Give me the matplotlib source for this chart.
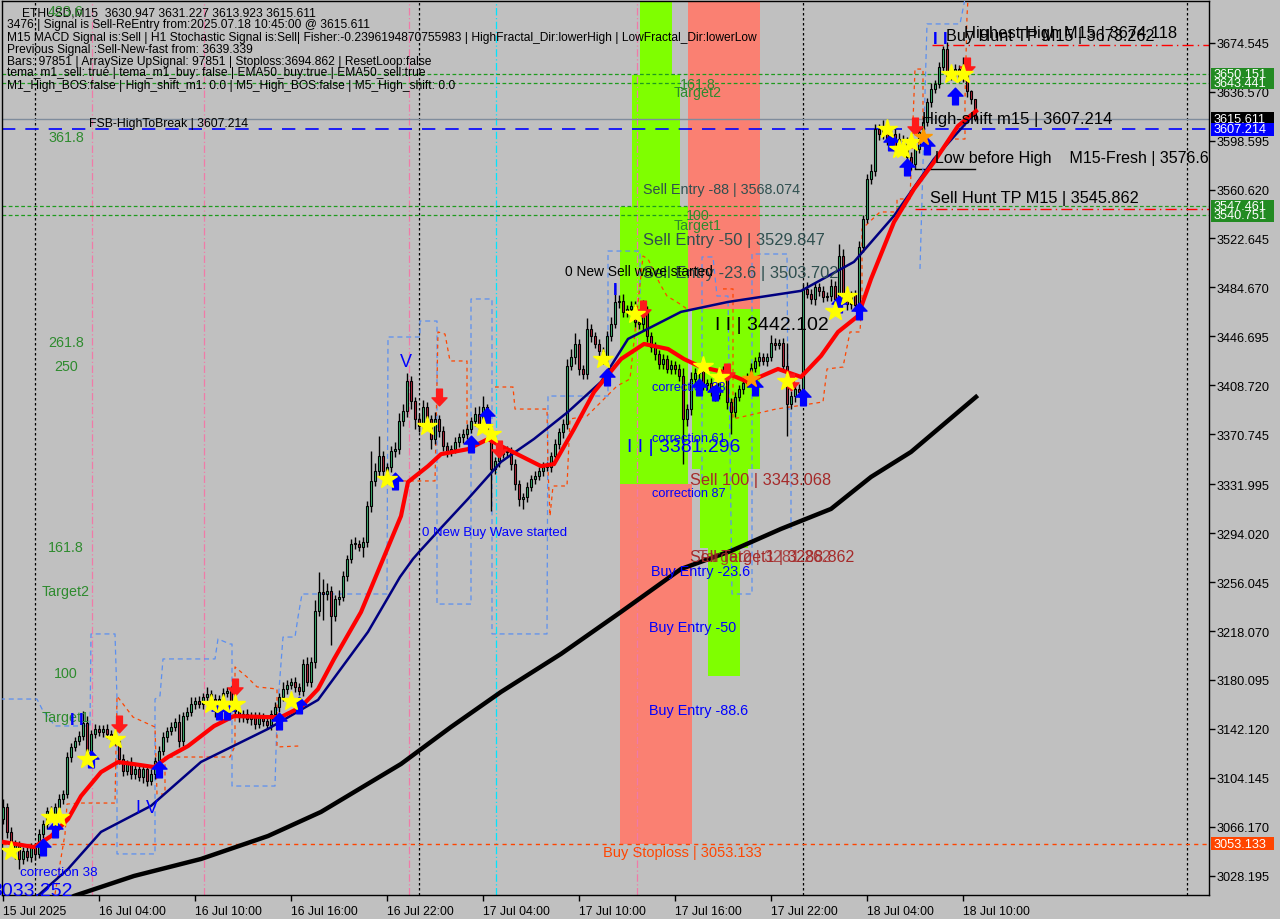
import matplotlib
matplotlib.use("Agg")
import matplotlib.pyplot as plt
from matplotlib.path import Path
from matplotlib.patches import Rectangle

plt.rcParams['font.family'] = ['Liberation Sans', 'DejaVu Sans']

# ---------------- data ----------------
first_open = 3072.0
closes = [
    3081.7, 3062.3, 3049.1, 3053.0, 3041.3, 3047.5, 3042.9, 3050.7, 3045.2, 3060.7, 3068.5, 3078.6, 3076.3, 3081.7, 3087.9, 3091.8, 3120.5, 3128.3, 3132.9, 3136.8,
    3146.9, 3120.5, 3138.3, 3142.2, 3139.9, 3142.2, 3138.3, 3136.0, 3132.9, 3118.9, 3109.6, 3115.1, 3107.3, 3111.2, 3105.0, 3111.2, 3101.9, 3107.3, 3117.4, 3125.1,
    3136.0, 3140.7, 3143.8, 3147.7, 3132.9, 3152.3, 3155.4, 3161.6, 3163.9, 3161.6, 3167.1, 3169.4, 3165.5, 3156.2, 3165.5, 3170.2, 3171.7, 3161.6, 3156.2, 3151.5,
    3153.9, 3150.0, 3152.3, 3146.1, 3151.5, 3148.4, 3145.3, 3153.9, 3159.3, 3167.1, 3173.3, 3176.4, 3178.7, 3174.8, 3171.7, 3192.7, 3178.7, 3194.2, 3233.8, 3248.5,
    3247.0, 3249.3, 3229.9, 3243.1, 3244.7, 3261.0, 3274.1, 3285.8, 3285.8, 3283.5, 3287.3, 3315.3, 3334.7, 3342.4, 3354.1, 3342.4, 3345.5, 3357.9, 3359.5, 3381.2,
    3389.0, 3412.3, 3396.7, 3382.8, 3377.4, 3392.1, 3382.8, 3367.3, 3382.8, 3373.5, 3361.8, 3357.9, 3359.5, 3364.9, 3368.8, 3371.1, 3375.0, 3381.2, 3386.7, 3378.9,
    3392.1, 3375.0, 3344.0, 3350.2, 3355.6, 3357.2, 3357.9, 3347.9, 3332.3, 3320.7, 3322.3, 3330.0, 3336.2, 3338.5, 3342.4, 3345.5, 3345.5, 3354.1, 3363.4, 3372.7,
    3378.9, 3423.9, 3430.9, 3441.0, 3421.6, 3417.7, 3452.6, 3447.2, 3441.0, 3435.5, 3429.3, 3447.2, 3456.5, 3473.6, 3474.4, 3465.8, 3468.1, 3470.5, 3458.1, 3456.5,
    3466.6, 3447.2, 3438.7, 3433.2, 3425.5, 3429.3, 3421.6, 3424.7, 3421.6, 3416.1, 3382.8, 3390.5, 3413.8, 3418.5, 3420.0, 3409.2, 3410.7, 3406.1, 3401.4, 3415.4,
    3420.0, 3396.0, 3388.2, 3399.9, 3406.1, 3410.7, 3415.4, 3422.4, 3427.8, 3430.9, 3427.8, 3430.9, 3441.8, 3440.2, 3441.8, 3423.9, 3394.4, 3400.6, 3406.1, 3403.7,
    3483.7, 3479.8, 3475.9, 3485.2, 3482.1, 3477.5, 3478.2, 3486.0, 3475.9, 3509.3, 3475.9, 3472.0, 3479.0, 3471.2, 3516.3, 3538.0, 3569.0, 3575.2, 3607.8, 3603.9,
    3609.4, 3600.1, 3603.9, 3592.3, 3600.1, 3596.2, 3586.1, 3580.7, 3592.3, 3605.5, 3613.2, 3628.8, 3638.9, 3642.7, 3655.9, 3669.9, 3648.9, 3652.0, 3654.4, 3648.2,
    3654.4, 3637.3, 3630.947, 3615.611,
]
wick_up = [
    6, 3, 4, 3, 2, 3, 4, 3, 3, 4, 3, 3, 4, 3, 4, 3, 4, 3, 3, 4,
    9, 5, 3, 4, 3, 3, 4, 3, 2, 3, 4, 3, 5, 3, 4, 3, 3, 4, 3, 4,
    4, 3, 4, 3, 6, 3, 4, 5, 3, 4, 3, 5, 3, 4, 3, 4, 3, 4, 3, 3,
    3, 4, 3, 3, 4, 3, 4, 3, 4, 3, 5, 4, 3, 4, 3, 4, 5, 4, 8, 15,
    10, 6, 4, 3, 5, 4, 3, 4, 5, 3, 4, 4, 23, 6, 15, 4, 3, 4, 5, 6,
    5, 6, 4, 3, 4, 5, 4, 3, 5, 3, 4, 3, 3, 4, 3, 4, 4, 3, 5, 6,
    8, 2, 4, 3, 4, 3, 4, 3, 4, 3, 3, 4, 3, 4, 3, 4, 4, 3, 4, 3,
    4, 5, 6, 8, 4, 3, 8, 4, 3, 4, 3, 4, 5, 14, 4, 5, 3, 4, 4, 3,
    8, 4, 3, 4, 3, 4, 3, 4, 3, 4, 6, 4, 5, 4, 3, 4, 3, 4, 3, 4,
    4, 5, 3, 4, 3, 4, 3, 4, 3, 4, 3, 3, 6, 4, 3, 4, 18, 4, 3, 4,
    4, 5, 4, 4, 3, 4, 3, 5, 4, 9, 5, 4, 3, 4, 4, 3, 4, 5, 4, 4,
    5, 4, 3, 4, 4, 3, 5, 4, 3, 4, 4, 3, 4, 3, 4, 2, 5, 4, 4, 3,
    9, 4, 0.3, 0.3,
]
wick_dn = [
    4, 5, 4, 8, 8, 4, 3, 4, 5, 3, 3, 4, 3, 4, 3, 4, 3, 4, 3, 3,
    3, 5, 4, 3, 3, 4, 3, 4, 3, 4, 4, 3, 4, 4, 3, 5, 4, 3, 4, 3,
    3, 4, 3, 3, 5, 4, 3, 3, 4, 3, 4, 3, 3, 5, 3, 4, 3, 4, 3, 4,
    4, 3, 5, 4, 3, 4, 3, 4, 3, 4, 3, 4, 3, 4, 3, 4, 3, 4, 5, 4,
    20, 5, 23, 4, 5, 3, 4, 3, 4, 3, 8, 4, 5, 4, 5, 4, 3, 4, 5, 4,
    4, 5, 6, 8, 5, 4, 6, 8, 4, 5, 4, 5, 4, 3, 4, 5, 4, 3, 4, 4,
    5, 4, 33, 4, 5, 3, 4, 5, 5, 6, 8, 4, 3, 4, 3, 4, 3, 4, 3, 4,
    5, 4, 3, 6, 5, 4, 4, 5, 3, 5, 4, 3, 4, 3, 5, 4, 4, 3, 4, 4,
    6, 5, 4, 5, 4, 4, 3, 4, 4, 4, 35, 6, 5, 4, 5, 4, 4, 6, 5, 3,
    4, 6, 17, 4, 3, 4, 3, 4, 3, 4, 3, 4, 3, 4, 3, 5, 25, 4, 5, 4,
    4, 3, 4, 5, 4, 4, 3, 4, 5, 3, 4, 5, 4, 5, 3, 4, 3, 4, 4, 5,
    4, 5, 4, 5, 4, 5, 4, 5, 4, 3, 4, 3, 4, 3, 3, 4, 4, 3, 4, 4,
    4, 5, 4, 1.7,
]

# moving averages (bar index, price)
ema_fast_x = [0.25, 7.75, 12, 16.25, 19.5, 24.5, 28.75, 32.75, 37.75, 41.25, 46.25, 52.75, 57.75, 66.25, 69.5, 74.5, 78.75, 82.75, 89.5, 94.5,
              99.5, 101.25, 106.25, 109.5, 116.25, 121.25, 124.5, 129.5, 134.5, 137.75, 142.75, 147.75, 154.5, 160.25, 166.25, 170.25, 174.5, 180.25,
              186.25, 193.75, 199.5, 204.5, 208.75, 213.75, 217, 222.75, 227.75, 232.75, 238.75, 243.25]
ema_fast_y = [3054.3, 3050.4, 3058.9, 3072.1, 3090.0, 3108.6, 3116.4, 3114.8, 3112.5, 3120.3, 3128.8, 3144.3, 3152.1, 3151.3, 3151.3, 3159.1, 3173.0, 3196.3, 3232.8, 3270.0,
              3307.3, 3333.7, 3346.0, 3355.3, 3359.2, 3367.0, 3361.6, 3353.8, 3346.0, 3347.6, 3374.8, 3403.5, 3429.1, 3440.8, 3436.9, 3429.1, 3422.9, 3419.0,
              3411.3, 3421.4, 3415.2, 3431.5, 3450.1, 3462.5, 3491.2, 3535.4, 3561.0, 3582.0, 3609.9, 3621.5]
ema50_x = [0, 7.75, 16.25, 24.5, 37, 49.5, 66.25, 78.75, 91.25, 99.25, 102.5, 104.25, 109.25, 116.25, 124.5, 132.75, 141.25, 149.5, 156.25, 169.5,
           181.25, 199.5, 212.75, 222.75, 232.75, 243.25]
ema50_y = [2999.0, 3010.1, 3033.4, 3062.2, 3082.4, 3116.5, 3142.1, 3164.6, 3217.4, 3260.0, 3274.0, 3280.2, 3297.2, 3320.6, 3349.3, 3367.1, 3388.1, 3411.4, 3444.7, 3465.7,
           3473.4, 3482.0, 3504.5, 3540.2, 3584.4, 3620.8]
ema200_x = [0, 17.75, 32.75, 49.5, 66.25, 79.5, 99.5, 112, 124.5, 139.5, 154.5, 169.5, 182, 194.5, 207, 217, 227, 243.25]
ema200_y = [2983.0, 3012.5, 3028.0, 3041.2, 3059.0, 3077.7, 3114.9, 3143.6, 3170.8, 3200.3, 3232.9, 3266.2, 3280.2, 3297.3, 3312.8, 3337.6, 3357.0, 3399.7]

# zone rectangles: (bar0, bar1, price0, price1, colour)
zones = [
    (159.25, 167.25, 3649.5, 3720.0, '#7fff00'),
    (157.25, 169.25, 3547.1, 3649.5, '#7fff00'),
    (154.25, 171.25, 3332.2, 3547.1, '#7fff00'),
    (171.25, 172.25, 3468.0, 3547.1, '#4fb3a9'),
    (171.25, 189.25, 3468.0, 3720.0, '#fa8072'),
    (172.25, 189.25, 3344.0, 3468.0, '#7fff00'),
    (174.25, 186.25, 3282.7, 3344.0, '#7fff00'),
    (176.25, 184.25, 3183.4, 3282.7, '#7fff00'),
    (154.25, 172.25, 3053.133, 3332.2, '#fa8072'),
]

# dashed channel lines (bar, price)
blue_ch1_x = [-0.75, 8.5, 9.75, 13, 21.75, 22, 28, 28.5, 28.5, 38, 38, 39.25, 40, 53, 53.75, 56.75, 57.25, 57.25, 68, 68.5, 70, 73, 73.75, 74.75, 96, 96.25,
              104.25, 104.25, 108.5, 108.5, 117, 117, 122.25, 122.25, 136, 136.25, 151.25, 151.25, 159.25, 159.25]
blue_ch1_y = [3165.3, 3165.3, 3157.6, 3144.4, 3144.4, 3215.8, 3215.8, 3165.3, 3045.1, 3045.1, 3165.3, 3167.7, 3196.4, 3196.4, 3211.9, 3208.0, 3208.0, 3097.8, 3097.8, 3152.1, 3213.4, 3213.4, 3228.9, 3246.8, 3246.8, 3446.2,
              3446.2, 3458.6, 3458.6, 3239.0, 3239.0, 3475.7, 3475.7, 3215.8, 3215.8, 3400.4, 3400.4, 3512.9, 3512.9, 3475.7]
blue_ch2_x = [174.75, 174.75, 177.5, 178.5, 181.25, 182.25, 187.25, 187.25, 196, 196.25, 197, 197]
blue_ch2_y = [3336.0, 3508.3, 3508.3, 3478.0, 3478.0, 3246.8, 3246.8, 3510.6, 3510.6, 3390.3, 3390.3, 3297.2]
blue_ch3_x = [229.25, 231, 239.25, 240.5]
blue_ch3_y = [3499.0, 3689.1, 3689.1, 3708.5]

orange_ch1_x = [13, 14.25, 15.5, 16, 19.25, 28, 28.5, 32.5, 38, 38.5, 40.5, 40.5, 56.75, 58, 58, 61, 63.5, 68.5, 68.5, 74.25]
orange_ch1_y = [3014.0, 3037.3, 3060.6, 3083.8, 3084.6, 3084.6, 3167.6, 3151.3, 3143.6, 3091.6, 3091.6, 3120.3, 3120.3, 3128.9, 3190.2, 3182.4, 3174.7, 3173.1, 3128.1, 3128.9]
orange_ch2_x = [98, 108, 108.75, 110.5, 111.75, 116, 116]
orange_ch2_y = [3334.5, 3334.5, 3450.1, 3448.5, 3427.6, 3427.6, 3369.4]
orange_ch3_x = [123, 127.5, 128, 136, 136.25, 136.75, 137.5, 141, 141.75, 146, 153.5, 156.75, 160, 161.25, 164.25, 166, 169.25, 171]
orange_ch3_y = [3407.4, 3407.4, 3390.3, 3390.3, 3343.8, 3307.3, 3330.6, 3330.6, 3382.6, 3384.9, 3408.2, 3413.6, 3509.0, 3506.7, 3487.3, 3478.0, 3471.8, 3467.9]
orange_ch4_x = [180, 182.5, 182.5, 193.25, 198.5, 205, 206, 210, 211.75, 214.25, 214.75, 214.75, 219.25, 223.5, 223.5, 226.75, 228, 230, 230]
orange_ch4_y = [3483.5, 3483.5, 3382.6, 3390.3, 3392.7, 3395.8, 3421.4, 3422.9, 3450.1, 3450.1, 3478.0, 3530.0, 3543.2, 3543.2, 3553.3, 3553.3, 3654.1, 3654.1, 3599.8]
orange_ch5_x = [238, 240.5, 240.5, 241, 241.25]
orange_ch5_y = [3599.8, 3599.8, 3630.9, 3695.3, 3708.5]

# signal markers (bar, price)
star_x = [2, 12, 14, 21, 28, 52, 55, 58, 72, 96, 106, 120, 122, 150, 158, 175, 179, 196, 208, 211, 221, 224, 225, 227, 237, 240]
star_y = [3047.4, 3073.8, 3073.8, 3118.7, 3134.3, 3161.4, 3161.4, 3161.4, 3163.8, 3336.0, 3377.1, 3376.3, 3370.9, 3429.1, 3464.0, 3423.7, 3415.2, 3412.1, 3466.3, 3478.0, 3607.6, 3592.1, 3592.1, 3597.5, 3650.2, 3650.2]
ostar_x = [187, 230]
ostar_y = [3413.6, 3601.4]
up_x = [10, 13, 22, 39, 54, 56, 69, 74, 98, 117, 121, 151, 174, 178, 188, 200, 209, 214, 222, 226, 231, 238]
up_y = [3050.5, 3064.5, 3118.7, 3111.0, 3156.0, 3156.0, 3148.3, 3160.7, 3334.5, 3363.2, 3384.9, 3415.2, 3407.5, 3403.6, 3407.5, 3399.7, 3471.9, 3466.3, 3597.5, 3578.1, 3594.4, 3633.2]
dn_x = [29, 58, 109, 124, 160, 181, 197, 228, 241]
dn_y = [3145.9, 3174.8, 3399.3, 3359.0, 3467.9, 3419.0, 3411.2, 3609.8, 3656.4]

ytick_vals = [3674.545, 3636.570, 3598.595, 3560.620, 3522.645, 3484.670, 3446.695, 3408.720, 3370.745,
              3331.995, 3294.020, 3256.045, 3218.070, 3180.095, 3142.120, 3104.145, 3066.170, 3028.195]
xtick_bars = [0, 24, 48, 72, 96, 120, 144, 168, 192, 216, 240]
xtick_labels = ['15 Jul 2025', '16 Jul 04:00', '16 Jul 10:00', '16 Jul 16:00', '16 Jul 22:00', '17 Jul 04:00',
                '17 Jul 10:00', '17 Jul 16:00', '17 Jul 22:00', '18 Jul 04:00', '18 Jul 10:00']

price_boxes = [(3650.151, '#228b22'), (3643.441, '#228b22'), (3547.461, '#228b22'), (3540.751, '#228b22'),
               (3615.611, '#000000'), (3607.214, '#0000ff'), (3053.133, '#ff4500')]

# ---------------- layout helpers (pixel -> data, for label placement) ----------------
def X(px):
    return (px - 3) / 4.0

def Y(py):
    return 3674.545 - (py - 43.7) * 0.7759

W, H = 1280, 920
fig = plt.figure(figsize=(12.8, 9.2), dpi=100, facecolor='#c0c0c0')
ax = fig.add_axes([2 / W, (H - 896) / H, (1209 - 2) / W, (896 - 2) / H])
ax.set_facecolor('#c0c0c0')
ax.set_xlim(X(2), X(1209))
ax.set_ylim(Y(896), Y(2))
for s in ax.spines.values():
    s.set_color('black')
    s.set_linewidth(1)

# zones
for x0, x1, y0, y1, c in zones:
    ax.add_patch(Rectangle((x0, y0), x1 - x0, y1 - y0, fc=c, ec='none', zorder=1))

# vertical separators
for b in [8, 104, 200, 296]:
    ax.axvline(b, color='black', lw=0.9, ls=(0, (2, 2)), zorder=2)
for b in [22.25, 50.25, 101.5, 158.5]:
    ax.axvline(b, color='#f07aa8', lw=0.9, ls=(0, (6, 2, 1, 2)), zorder=2)
ax.axvline(123.25, color='#00e5ff', lw=0.9, ls=(0, (6, 2, 1, 2)), zorder=2)

# horizontal levels
for lv in [3650.151, 3643.441, 3547.461, 3540.751]:
    ax.axhline(lv, color='#1e9b1e', lw=0.9, ls=(0, (3, 2)), zorder=2)
ax.axhline(3615.611, color='#7f8c9c', lw=1.0, zorder=2)
ax.axhline(3607.214, color='#0000ff', lw=1.2, ls=(0, (8, 6)), zorder=2)
ax.axhline(3053.133, color='#ff4500', lw=1.0, ls=(0, (3, 3)), zorder=2)
ax.plot([X(932), X(1209)], [3672.5, 3672.5], color='#ff0000', lw=1.0, ls=(0, (8, 3, 1, 3)), zorder=2)
ax.plot([X(915), X(1209)], [3545.862, 3545.862], color='#ff0000', lw=1.0, ls=(0, (8, 3, 1, 3)), zorder=2)
ax.plot([X(915), X(975)], [3576.6, 3576.6], color='black', lw=1.0, zorder=2)

# channels
for xs, ys in [(blue_ch1_x, blue_ch1_y), (blue_ch2_x, blue_ch2_y), (blue_ch3_x, blue_ch3_y)]:
    ax.plot(xs, ys, color='#5b8ff0', lw=0.9, ls=(0, (4, 3)), zorder=3)
for xs, ys in [(orange_ch1_x, orange_ch1_y), (orange_ch2_x, orange_ch2_y), (orange_ch3_x, orange_ch3_y),
               (orange_ch4_x, orange_ch4_y), (orange_ch5_x, orange_ch5_y)]:
    ax.plot(xs, ys, color='#ff4500', lw=0.9, ls=(0, (3, 3)), zorder=3)

# candles
opens = [first_open] + closes[:-1]
for i, (o, c, wu, wd) in enumerate(zip(opens, closes, wick_up, wick_dn)):
    hi = max(o, c) + wu
    lo = min(o, c) - wd
    ax.plot([i, i], [lo, hi], color='black', lw=1.0, zorder=5, solid_capstyle='butt')
    col = '#3cb371' if c >= o else '#b5283c'
    ax.add_patch(Rectangle((i - 0.36, min(o, c)), 0.72, max(abs(c - o), 0.5), fc=col, ec='black', lw=0.8, zorder=6))

# moving averages
ax.plot(ema200_x, ema200_y, color='black', lw=3.2, zorder=7)
ax.plot(ema50_x, ema50_y, color='#000080', lw=1.8, zorder=7)
ax.plot(ema_fast_x, ema_fast_y, color='#ff0000', lw=3.0, zorder=8)

# markers
up_arrow = Path([(0, 1), (-0.9, 0.05), (-0.35, 0.05), (-0.35, -1), (0.35, -1), (0.35, 0.05), (0.9, 0.05), (0, 1)],
                [Path.MOVETO] + [Path.LINETO] * 6 + [Path.CLOSEPOLY])
dn_arrow = Path([(0, -1), (-0.9, -0.05), (-0.35, -0.05), (-0.35, 1), (0.35, 1), (0.35, -0.05), (0.9, -0.05), (0, -1)],
                [Path.MOVETO] + [Path.LINETO] * 6 + [Path.CLOSEPOLY])
ax.plot(up_x, up_y, ls='none', marker=up_arrow, ms=12, color='#0000ff', zorder=9)
ax.plot(dn_x, dn_y, ls='none', marker=dn_arrow, ms=12, color='#ff1a1a', zorder=9)
ax.plot(star_x, star_y, ls='none', marker='*', ms=15, color='#ffff00', mec='#ffff00', zorder=10)
ax.plot(ostar_x, ostar_y, ls='none', marker='*', ms=13, color='#ff9900', mec='#ff9900', zorder=10)

# ---------------- texts ----------------
def t(px, py, s, color='black', size=8, ha='left', clip=False, **kw):
    ax.text(X(px), Y(py), s, color=color, fontsize=size, ha=ha, va='center', zorder=11, clip_on=clip, **kw)

info = [
    (13, 'ETHUSD,M15  3630.947 3631.227 3613.923 3615.611', 22),
    (25, '3476 | Signal is Sell-ReEntry from:2025.07.18 10:45:00 @ 3615.611', 7),
    (38, 'M15 MACD Signal is:Sell | H1 Stochastic Signal is:Sell| Fisher:-0.2396194870755983 | HighFractal_Dir:lowerHigh | LowFractal_Dir:lowerLow', 7),
    (50, 'Previous Signal :Sell-New-fast from: 3639.339', 7),
    (62, 'Bars: 97851 | ArraySize UpSignal: 97851 | Stoploss:3694.862 | ResetLoop:false', 7),
    (73, 'tema_m1_sell: true | tema_m1_buy: false | EMA50_buy:true | EMA50_sell:true', 7),
    (86, 'M1_High_BOS:false | High_shift_m1: 0.0 | M5_High_BOS:false | M5_High_shift: 0.0', 7),
]
for py, s, px in info:
    t(px, py, s, size=8.65)

green = '#2e8b2e'
for py, s in [(12, '423.6'), (138, '361.8'), (343, '261.8'), (367, '250'), (548, '161.8'), (592, 'Target2'), (674, '100'), (718, 'Target1')]:
    t(66, py, s, color=green, size=10.3, ha='center')
for py, s in [(85, '161.8'), (93, 'Target2'), (216, '100'), (226, 'Target1')]:
    t(698, py, s, color=green, size=10.3, ha='center')

slate = '#2f4f4f'
t(643, 190, 'Sell Entry -88 | 3568.074', color=slate, size=10.3)
t(643, 240, 'Sell Entry -50 | 3529.847', color=slate, size=11.9)
t(643, 273, 'Sell Entry -23.6 | 3503.702', color=slate, size=11.9)
t(565, 272, '0 New Sell wave started', size=9.9)
t(715, 325, 'I I | 3442.102', size=14)
t(627, 447, 'I I | 3381.296', color='#0000ff', size=14)
t(652, 388, 'correction 38', color='#0000ff', size=9.2)
t(652, 439, 'correction 61', color='#0000ff', size=9.2)
t(652, 494, 'correction 87', color='#0000ff', size=9.2)
t(20, 873, 'correction 38', color='#0000ff', size=9.6)
brown = '#a52a2a'
t(690, 480, 'Sell 100 | 3343.068', color=brown, size=11.8)
t(690, 558, 'Sell Target1 | 3288.862', color=brown, size=11.5)
t(698, 558, 'Target2 | 3281.262', color=brown, size=11.5, alpha=0.8)
t(651, 572, 'Buy Entry -23.6', color='#0000ff', size=10.4)
t(649, 628, 'Buy Entry -50', color='#0000ff', size=10.4)
t(649, 711, 'Buy Entry -88.6', color='#0000ff', size=10.4)
t(603, 853, 'Buy Stoploss | 3053.133', color='#ff4500', size=10.5)
t(422, 533, '0 New Buy Wave started', color='#0000ff', size=9.5)
t(89, 124, 'FSB-HighToBreak | 3607.214', size=8.8)
t(946, 36, 'Buy Hunt TP M15 | 3673.262', size=11.6)
t(964, 33, 'Highest High M15 | 3674.118', size=11.9)
t(922, 119, 'High-shift m15 | 3607.214', size=12)
t(935, 158, 'Low before High    M15-Fresh | 3576.672', size=11.5, clip=True)
t(930, 198, 'Sell Hunt TP M15 | 3545.862', size=11.7)
t(406, 362, 'V', color='#0000ff', size=13, ha='center')
t(147, 808, 'I V', color='#0000ff', size=13, ha='center')
t(-9, 892, '3033.252', color='#0000ff', size=14)
for px, py in [(72, 721), (81, 721), (615, 290), (935, 39), (945, 39)]:
    t(px, py, 'I', color='#0000ff', size=12, ha='center', fontweight='bold')

# ---------------- axes ticks ----------------
ax.yaxis.tick_right()
ax.set_yticks(ytick_vals)
ax.set_yticklabels([f'{v:.3f}' for v in ytick_vals])
ax.tick_params(axis='y', direction='out', length=4, width=1, pad=1.5, labelsize=9.2, colors='black')
ax.set_xticks(xtick_bars)
ax.set_xticklabels(xtick_labels)
ax.tick_params(axis='x', direction='out', length=4, width=1, pad=3, labelsize=8.8, colors='black')
for lbl in ax.get_xticklabels():
    lbl.set_ha('left')

# right-axis price boxes
fig.canvas.draw()
for price, col in price_boxes:
    yd = ax.transData.transform((0, price))[1]
    yf = yd / H
    fig.patches.append(Rectangle((1211 / W, yf - 6.5 / H), 63 / W, 13 / H, transform=fig.transFigure,
                                 fc=col, ec='none', zorder=20))
    fig.text(1214 / W, yf, f'{price:.3f}', color='white', fontsize=9.2, va='center', ha='left', zorder=21)

fig.savefig('out.png', dpi=100, facecolor='#c0c0c0')
